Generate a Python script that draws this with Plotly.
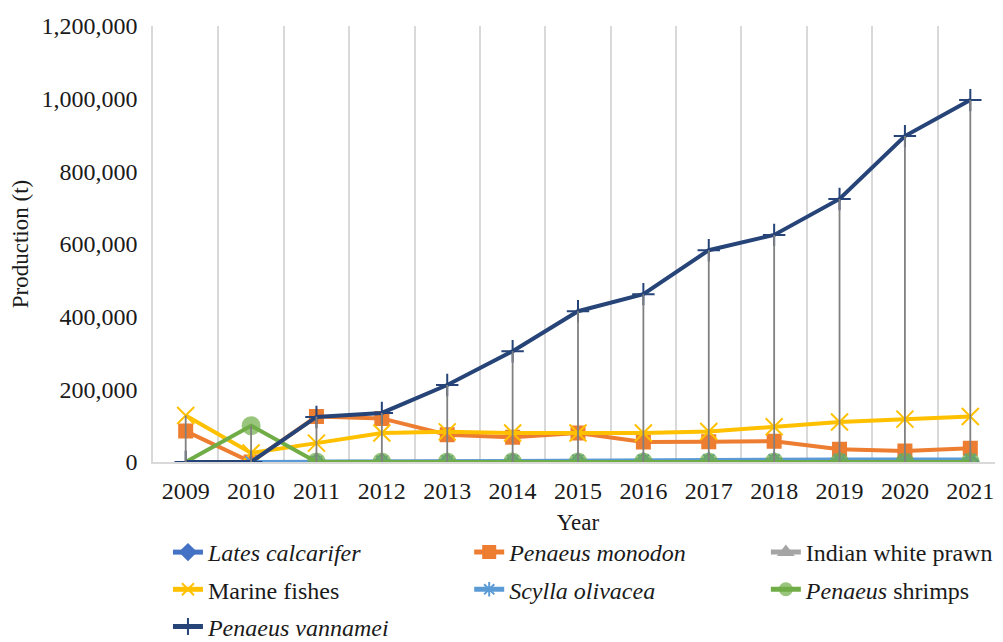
import plotly.graph_objects as go

years = [str(y) for y in range(2009, 2022)]

lates_calcarifer = [None, None, 500, 800, 1000, 1200, 1300, 1500, 1600, 1700, 1800, 1900, 2000]
penaeus_monodon = [85000, 0, 125000, 120000, 75000, 68000, 80000, 55000, 56000, 57000, 35000, 30000, 38000]
indian_white_prawn = [None, None, 300, 500, 600, 700, 800, 900, 1000, 1100, 1200, 1300, 1400]
marine_fishes = [128000, 25000, 52000, 80000, 83000, 80000, 80000, 80000, 84000, 97000, 110000, 118000, 125000]
scylla_olivacea = [None, 0, 1000, 2000, 3000, 4000, 5000, 5500, 6000, 6500, 7000, 7000, 7000]
penaeus_shrimps = [0, 100000, 0, 0, 0, 0, 0, 0, 0, 0, 0, 0, 0]
penaeus_vannamei = [0, 0, 124000, 135000, 212000, 305000, 415000, 462000, 583000, 625000, 724000, 897000, 996000]

# name, values, colour, symbol, marker size, legend column
series = [
    ("<i>Lates calcarifer</i>", lates_calcarifer, "#4472C4", "diamond", 12, "legend"),
    ("<i>Penaeus monodon</i>", penaeus_monodon, "#ED7D31", "square", 13, "legend2"),
    ("Indian white prawn", indian_white_prawn, "#A5A5A5", "triangle-up", 12, "legend3"),
    ("Marine fishes", marine_fishes, "#FFC000", "x-thin-open", 17, "legend"),
    ("<i>Scylla olivacea</i>", scylla_olivacea, "#5B9BD5", "asterisk-open", 13, "legend2"),
    ("<i>Penaeus</i> shrimps", penaeus_shrimps, "#70AD47", "circle", 17, "legend3"),
    ("<i>Penaeus vannamei</i>", penaeus_vannamei, "#264478", "cross-thin-open", 16, "legend"),
]

fig = go.Figure()

for i, (name, vals, color, sym, size, leg) in enumerate(series):
    sizes = size
    if "shrimps" in name:
        sizes = [0] + [size] * (len(years) - 1)  # no marker drawn for 2009
    fig.add_trace(go.Scatter(
        x=years, y=vals, name=name, mode="lines+markers",
        legend=leg, legendgroup="g%d" % i,
        line=dict(color=color, width=4),
        marker=dict(symbol=sym, size=sizes, color=color,
                    line=dict(color=color, width=2)),
    ))

# high-low lines (min to max of all series per year)
all_vals = [s[1] for s in series]
hl_x, hl_y = [], []
for i, yr in enumerate(years):
    col = [v[i] for v in all_vals if v[i] is not None]
    hl_x += [yr, yr, None]
    hl_y += [min(col), max(col), None]
fig.add_trace(go.Scatter(x=hl_x, y=hl_y, mode="lines", showlegend=False,
                         line=dict(color="#808080", width=1.8), hoverinfo="skip"))

serif = "Liberation Serif"
tick_font = dict(family=serif, size=24, color="#1a1a1a")
title_font = dict(family=serif, size=23, color="#1a1a1a")

legend_common = dict(orientation="v", y=-0.156, yanchor="top", xanchor="left",
                     font=dict(family=serif, size=24, color="#1a1a1a"),
                     traceorder="grouped", tracegroupgap=3, itemsizing="constant",
                     bgcolor="rgba(0,0,0,0)")

# page body has an 8px margin, so the figure is 8px smaller and shifted
fig.update_layout(
    width=995, height=634,
    margin=dict(l=145, r=0, t=18, b=180, autoexpand=False),
    plot_bgcolor="white", paper_bgcolor="white",
    font=dict(family=serif, size=22, color="#1a1a1a"),
    xaxis=dict(type="category", tickson="boundaries", range=[-0.5, 12.5], showgrid=True,
               gridcolor="#d9d9d9", gridwidth=1.5, showline=True, linecolor="#d9d9d9",
               linewidth=1.5, ticks="", ticklabelstandoff=6, tickfont=tick_font,
               title=dict(text="Year", standoff=11, font=title_font)),
    yaxis=dict(range=[0, 1200000], dtick=200000, tickformat=",d", showgrid=False,
               showline=True, linecolor="#d9d9d9", linewidth=1.5, ticks="",
               ticklabelstandoff=9, zeroline=False, tickfont=tick_font,
               title=dict(text="Production (t)", standoff=6, font=title_font)),
    legend=dict(legend_common, x=0.0176),
    legend2=dict(legend_common, x=0.372),
    legend3=dict(legend_common, x=0.721),
)

fig.write_html("out.html")
